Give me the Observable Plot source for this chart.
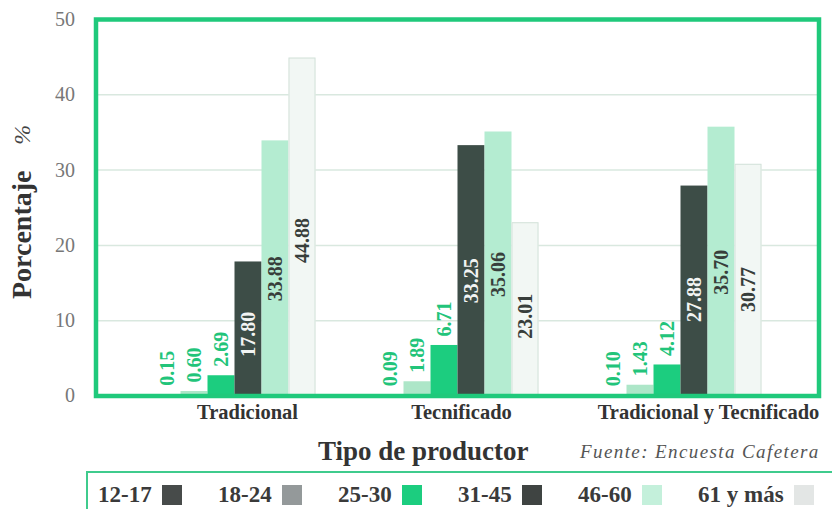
<!DOCTYPE html>
<html><head><meta charset="utf-8">
<script src="https://cdn.jsdelivr.net/npm/d3@7"></script>
<script src="https://cdn.jsdelivr.net/npm/@observablehq/plot@0.6"></script>
<style>
body{margin:0;background:#fff;}
#wrap{position:relative;width:832px;height:509px;overflow:hidden;font-family:"Liberation Serif","Times New Roman",serif;background:#fff;}
.layer{position:absolute;left:0;top:0;}
#xtitle{position:absolute;top:436px;left:318px;font-weight:bold;font-size:27px;color:#333;white-space:nowrap;}
#source{position:absolute;top:441px;left:580px;font-style:italic;font-size:19px;letter-spacing:1.4px;color:#555;white-space:nowrap;}
#legend{position:absolute;left:86px;top:471px;width:800px;height:80px;border:2px solid #3fcb8d;box-sizing:border-box;}
.item{position:absolute;top:9px;height:26px;display:flex;align-items:center;font-weight:bold;font-size:23px;color:#3a3a3a;white-space:nowrap;}
.sw{display:inline-block;width:20px;height:20px;margin-left:10px;}
</style></head>
<body><div id="wrap"><div id="backLayer" class="layer"></div><div id="barLayer" class="layer"></div><div id="frameLayer" class="layer"></div>
<div id="xtitle">Tipo de productor</div>
<div id="source">Fuente: Encuesta Cafetera</div>
<div id="legend"></div></div>
<script>
const groups = ["Tradicional", "Tecnificado", "Tradicional y Tecnificado"];
const ages = ["12-17", "18-24", "25-30", "31-45", "46-60", "61 y más"];
const tradicional = [0.15, 0.60, 2.69, 17.80, 33.88, 44.88];
const tecnificado = [0.09, 1.89, 6.71, 33.25, 35.06, 23.01];
const ambos = [0.10, 1.43, 4.12, 27.88, 35.70, 30.77];
const yTicks = [0, 10, 20, 30, 40, 50];

const barColors = ["#454d4a", "#ade6c8", "#1ccd7f", "#3d4d47", "#b4ecd1", "#f2f7f4"];
const legendColors = ["#474b4a", "#94999a", "#1ccd7f", "#3f4442", "#c4f0db", "#e3e6e5"];
const green = "#1fc97b";

const series = [tradicional, tecnificado, ambos];
const data = groups.flatMap((g, gi) => ages.map((a, ai) => ({group: g, age: a, value: series[gi][ai]})));
const fmt = d => d.value.toFixed(2);
const groupDx = [13, 4, 28];

const common = {
  width: 832, height: 430,
  marginLeft: 95.5, marginRight: 13.5, marginTop: 19, marginBottom: 34.5,
  style: {fontFamily: "'Liberation Serif','Times New Roman',serif", background: "transparent", overflow: "visible"},
  y: {domain: [0, 50], label: null}
};

// background layer: grid, y axis, y label
const backPlot = Plot.plot({
  ...common,
  marks: [
    Plot.gridY(yTicks.slice(1, 5), {stroke: "#d9e8df", strokeOpacity: 1, strokeWidth: 1.5}),
    Plot.axisY(yTicks, {tickSize: 0, tickPadding: 21, fontSize: 20, color: "#777", label: null}),
    Plot.text(["Porcentaje"], {frameAnchor: "left", dx: -73.5, dy: 27, rotate: -90, textAnchor: "middle", text: d => d, fontWeight: "bold", fontSize: 28, fill: "#333"}),
    Plot.text(["%"], {frameAnchor: "left", dx: -73.5, dy: -73, rotate: -90, textAnchor: "middle", text: d => d, fontStyle: "italic", fontSize: 24, fill: "#444"})
  ]
});
document.getElementById("backLayer").appendChild(backPlot);

// middle layer: faceted bars and labels
const barPlot = Plot.plot({
  ...common,
  fx: {domain: groups, paddingInner: 0.263, paddingOuter: 0.25, axis: null, label: null},
  x: {domain: ages, padding: 0, axis: null},
  y: {domain: [0, 50], axis: null},
  color: {domain: ages, range: barColors},
  marks: [
    Plot.barY(data, {fx: "group", x: "age", y: "value", fill: "age"}),
    Plot.barY(data.filter(d => d.age === ages[5]), {fx: "group", x: "age", y: "value", fill: "none", stroke: "#d3e2da", strokeWidth: 1, inset: 0.5}),
    Plot.text(data.filter(d => d.value < 10), {fx: "group", x: "age", y: "value", text: fmt, rotate: -90, textAnchor: "start", dy: -9, fill: "#22c47a", fontWeight: "bold", fontSize: 20}),
    Plot.text(data.filter(d => d.value >= 10), {fx: "group", x: "age", y: d => d.value * 0.46, text: fmt, rotate: -90, fill: d => d.age === ages[3] ? "#f2f4f3" : "#383e3b", fontWeight: "bold", fontSize: 20}),
    ...groups.map((g, i) => Plot.text([g], {fx: d => d, frameAnchor: "bottom", dy: 23, dx: groupDx[i], text: d => d, fontWeight: "bold", fontSize: 20.5, fill: "#333"}))
  ]
});
document.getElementById("barLayer").appendChild(barPlot);

// top layer: green frame over the plot area
const framePlot = Plot.plot({
  ...common,
  y: {domain: [0, 50], axis: null},
  marks: [Plot.frame({stroke: green, strokeWidth: 4.5})]
});
document.getElementById("frameLayer").appendChild(framePlot);

const legend = document.getElementById("legend");
ages.forEach((a, i) => {
  const it = document.createElement("div");
  it.className = "item";
  it.style.left = (10 + i * 120) + "px";
  it.innerHTML = `<span>${a}</span><span class="sw" style="background:${legendColors[i]}"></span>`;
  legend.appendChild(it);
});
</script></body></html>
